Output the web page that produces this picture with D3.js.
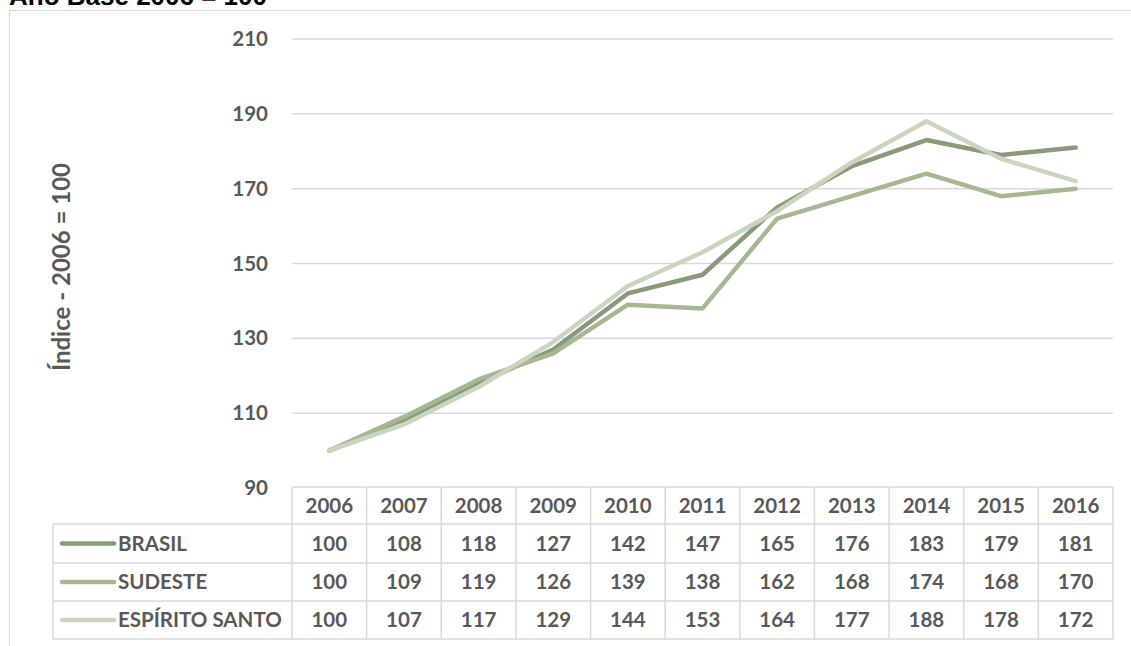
<!DOCTYPE html>
<html><head><meta charset="utf-8">
<script src="https://cdn.jsdelivr.net/npm/d3@7"></script>
<style>
body{margin:0;background:#fff;}
svg{display:block;}
text{font-family:Lato,"Open Sans",sans-serif;font-weight:700;fill:#595959;}
</style></head>
<body><svg id="c" width="1131" height="646"></svg>
<script>
const years = ["2006","2007","2008","2009","2010","2011","2012","2013","2014","2015","2016"];
const seriesNames = ["BRASIL","SUDESTE","ESPÍRITO SANTO"];
const brasil = [100,108,118,127,142,147,165,176,183,179,181];
const sudeste = [100,109,119,126,139,138,162,168,174,168,170];
const espiritoSanto = [100,107,117,129,144,153,164,177,188,178,172];
const yTicks = [90,110,130,150,170,190,210];
const colors = ["#8a9979","#a6b892","#cad5c0"];
const titleText = "Ano Base 2006 = 100";
const yTitle = "Índice - 2006 = 100";

const series = [brasil, sudeste, espiritoSanto];
const svg = d3.select("#c");
const fs = "20.5px";

// frame
svg.append("path").attr("d","M9.5,646 V10.5 H1131").attr("fill","none").attr("stroke","#d9d9d9").attr("stroke-width",1.2);

// title (cut off at top as in the source)
svg.append("text").attr("x",9).attr("y",5).text(titleText)
  .style("font-family","'Liberation Sans',Arial,sans-serif").style("font-size","26px").style("fill","#000");

const x = d3.scaleBand().domain(years).range([292,1113]).padding(0);
const y = d3.scaleLinear().domain([90,210]).range([488,39]);

// gridlines
svg.append("g").selectAll("line").data(yTicks.filter(d=>d>90)).join("line")
  .attr("x1",292).attr("x2",1113).attr("y1",d=>y(d)).attr("y2",d=>y(d))
  .attr("stroke","#d9d9d9").attr("stroke-width",1.5);

// y axis
const ya = svg.append("g").attr("transform","translate(292,0)")
  .call(d3.axisLeft(y).tickValues(yTicks).tickSize(0).tickPadding(24));
ya.select(".domain").remove();
ya.selectAll("text").style("font-family","Lato,sans-serif").style("font-weight","700").style("font-size",fs).attr("fill","#595959");

// y title
svg.append("text").attr("transform","translate(70,267) rotate(-90)").attr("text-anchor","middle")
  .style("font-size","24px").text(yTitle);

// lines
const line = d3.line().x((d,i)=>x(years[i])+x.bandwidth()/2).y(d=>y(d));
series.forEach((s,k)=>{
  svg.append("path").datum(s).attr("d",line).attr("fill","none")
    .attr("stroke",colors[k]).attr("stroke-width",4.5).attr("stroke-linecap","round").attr("stroke-linejoin","round");
});

// data table
const rowTop = [487,524,563,601,639];
const tg = svg.append("g");
const gc = "#d9d9d9", gw = 1.5;
tg.append("line").attr("x1",292).attr("x2",1113).attr("y1",rowTop[0]).attr("y2",rowTop[0]).attr("stroke",gc).attr("stroke-width",gw);
for(let r=1;r<rowTop.length;r++){
  tg.append("line").attr("x1",53).attr("x2",1113).attr("y1",rowTop[r]).attr("y2",rowTop[r]).attr("stroke",gc).attr("stroke-width",gw);
}
tg.append("line").attr("x1",53).attr("x2",53).attr("y1",rowTop[1]).attr("y2",rowTop[4]).attr("stroke",gc).attr("stroke-width",gw);
const bounds = years.map(d=>x(d)).concat([x(years[years.length-1])+x.bandwidth()]);
bounds.forEach(b=>{
  tg.append("line").attr("x1",b).attr("x2",b).attr("y1",rowTop[0]).attr("y2",rowTop[4]).attr("stroke",gc).attr("stroke-width",gw);
});
tg.selectAll("text.h").data(years).join("text").attr("class","h")
  .attr("x",d=>x(d)+x.bandwidth()/2).attr("y",(rowTop[0]+rowTop[1])/2).attr("dy","0.36em")
  .attr("text-anchor","middle").style("font-size",fs).text(d=>d);
series.forEach((s,k)=>{
  const cy = (rowTop[k+1]+rowTop[k+2])/2;
  tg.append("line").attr("x1",62).attr("x2",114).attr("y1",cy).attr("y2",cy)
    .attr("stroke",colors[k]).attr("stroke-width",4.5).attr("stroke-linecap","round");
  tg.append("text").attr("x",118).attr("y",cy).attr("dy","0.36em").style("font-size",fs).text(seriesNames[k]);
  tg.selectAll("text.v"+k).data(s).join("text").attr("class","v"+k)
    .attr("x",(d,i)=>x(years[i])+x.bandwidth()/2).attr("y",cy).attr("dy","0.36em")
    .attr("text-anchor","middle").style("font-size",fs).text(d=>d);
});
</script></body></html>
